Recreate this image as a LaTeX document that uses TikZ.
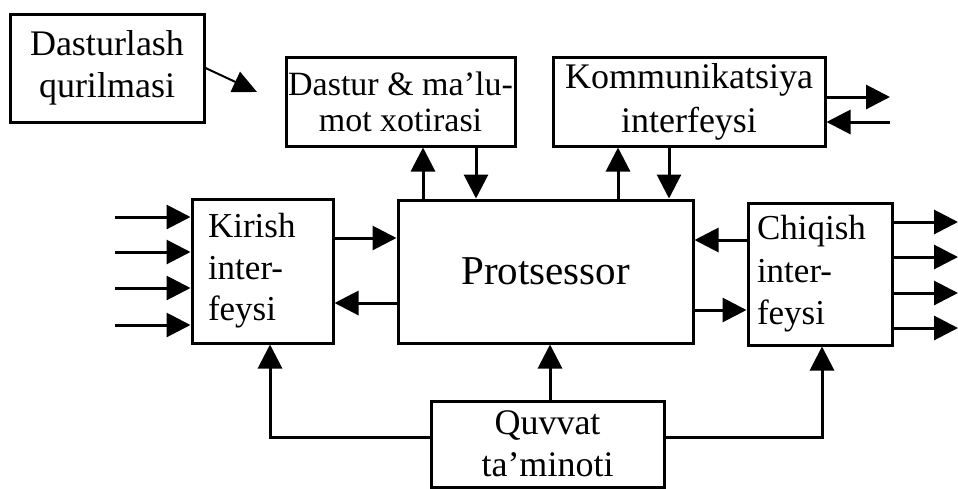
\documentclass[tikz,border=0pt]{standalone}
\usepackage{fontspec}
\setmainfont{Liberation Serif}
\usetikzlibrary{arrows.meta}
\tikzset{
  box/.style={draw, line width=3pt, inner sep=0pt, align=center,
    font=\fontsize{36}{42}\selectfont},
  arr/.style={line width=3pt, -{Triangle[length=24pt,width=24pt]}},
  thinarr/.style={line width=2pt, -{Triangle[length=24pt,width=22pt]}},
  plain/.style={line width=3pt}
}
\begin{document}
\begin{tikzpicture}[x=1pt,y=-1pt]
\useasboundingbox (0,0) rectangle (958,488);
\clip (0,0) rectangle (958,488);
% boxes
\node[box, minimum width=194pt, minimum height=108pt] (dast) at (107,68) {Dasturlash\\qurilmasi};
\node[box, minimum width=229pt, minimum height=89pt, font=\fontsize{34}{36}\selectfont] (mem) at (400.5,101.5) {Dastur \& ma’lu-\\mot xotirasi};
\node[box, minimum width=272pt, minimum height=89pt, font=\fontsize{36}{44}\selectfont] (comm) at (689,101.5) {Kommunikatsiya\\interfeysi};
\node[box, minimum width=141pt, minimum height=144pt, text width=109pt, inner xsep=16pt, align=left, font=\fontsize{35}{41.5}\selectfont] (kir) at (262.5,271) {Kirish\\inter-\\feysi};
\node[box, minimum width=295pt, minimum height=143pt, font=\fontsize{41}{48}\selectfont] (proc) at (545.5,271.5) {Protsessor};
\node[box, minimum width=144pt, minimum height=142pt, text width=126pt, inner xsep=9pt, align=left, font=\fontsize{35}{42.5}\selectfont] (chiq) at (820,274) {Chiqish\\inter-\\feysi};
\node[box, minimum width=233pt, minimum height=86pt, font=\fontsize{36}{42}\selectfont] (quv) at (547.5,444) {Quvvat\\ta’minoti};
% free-end coordinates
\coordinate (dtip) at (257,92);
\coordinate (m1) at (423,0);
\coordinate (m2) at (476,0);
\coordinate (c1) at (618,0);
\coordinate (c2) at (669,0);
\coordinate (cout) at (890,97);
\coordinate (cin) at (890,122);
\coordinate (i1) at (115,217);
\coordinate (i2) at (115,252);
\coordinate (i3) at (115,288);
\coordinate (i4) at (115,325);
\coordinate (o1) at (958,222);
\coordinate (o2) at (958,257);
\coordinate (o3) at (958,293);
\coordinate (o4) at (958,328);
\coordinate (kp1) at (0,238);
\coordinate (kp2) at (0,303);
\coordinate (cp1) at (0,240);
\coordinate (cp2) at (0,310);
\coordinate (pl) at (270,437);
\coordinate (pr) at (822,437);
\coordinate (pm) at (550,0);
% programming device
\draw[thinarr] (dast.east) -- (dtip);
% memory
\draw[arr] (m1 |- proc.north) -- (m1 |- mem.south);
\draw[arr] (m2 |- mem.south) -- (m2 |- proc.north);
% communication
\draw[arr] (c1 |- proc.north) -- (c1 |- comm.south);
\draw[arr] (c2 |- comm.south) -- (c2 |- proc.north);
\draw[arr] (comm.east |- cout) -- (cout);
\draw[arr] (cin) -- (comm.east |- cin);
% inputs
\foreach \i in {i1,i2,i3,i4} \draw[arr] (\i) -- (kir.west |- \i);
% outputs
\foreach \o in {o1,o2,o3,o4} \draw[arr] (chiq.east |- \o) -- (\o);
% kirish <-> processor
\draw[arr] (kir.east |- kp1) -- (proc.west |- kp1);
\draw[arr] (proc.west |- kp2) -- (kir.east |- kp2);
% chiqish <-> processor
\draw[arr] (chiq.west |- cp1) -- (proc.east |- cp1);
\draw[arr] (proc.east |- cp2) -- (chiq.west |- cp2);
% power
\draw[arr] (quv.west |- pl) -- (pl) -- (pl |- kir.south);
\draw[arr] (pm |- quv.north) -- (pm |- proc.south);
\draw[arr] (quv.east |- pr) -- (pr) -- (pr |- chiq.south);
\end{tikzpicture}
\end{document}
